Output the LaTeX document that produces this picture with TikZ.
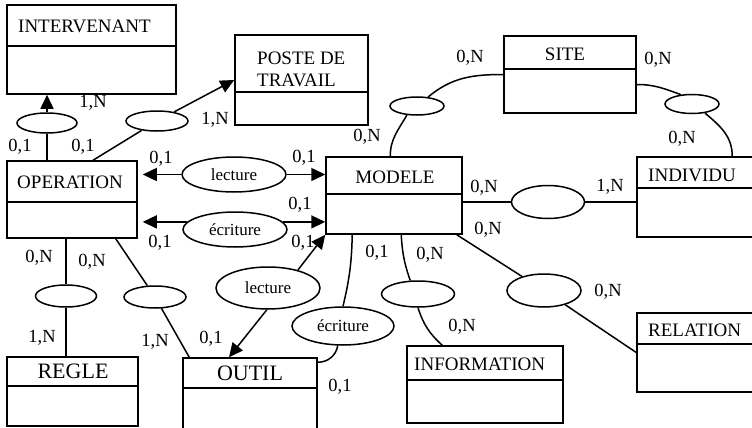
\documentclass[tikz,border=0pt]{standalone}
\usepackage{fontspec}
\setmainfont{Liberation Serif}
\usetikzlibrary{arrows.meta,shapes.geometric}
\tikzset{
  ent/.style={draw=black,line width=1.5pt,fill=white,inner sep=0pt},
  rel/.style={ellipse,draw=black,line width=1.5pt,fill=white,inner sep=0pt,font=\fontsize{17}{19}\selectfont},
  lnk/.style={draw=black,line width=1.5pt},
  arr/.style={lnk,-{Triangle[length=14pt,width=13pt]}},
  ttl/.style={inner sep=0pt,font=\fontsize{19}{22}\selectfont},
  ttlb/.style={ttl,font=\fontsize{22}{26}\selectfont},
  card/.style={inner sep=0pt,font=\fontsize{18.5}{20}\selectfont},
}
\begin{document}
\begin{tikzpicture}[x=1pt,y=-1pt]
  \useasboundingbox (0,0) rectangle (752,428);
  % entities
  \node[ent,minimum width=169pt,minimum height=89pt] (interv) at (91.5,49.5) {};
  \node[ent,minimum width=133pt,minimum height=90pt] (poste) at (301.5,80) {};
  \node[ent,minimum width=132pt,minimum height=77pt] (site) at (570,74.5) {};
  \node[ent,minimum width=133pt,minimum height=80pt] (indiv) at (703.5,197) {};
  \node[ent,minimum width=136pt,minimum height=77pt] (modele) at (394,195.5) {};
  \node[ent,minimum width=130pt,minimum height=77pt] (oper) at (72,199.5) {};
  \node[ent,minimum width=131pt,minimum height=69pt] (regle) at (72.5,391.5) {};
  \node[ent,minimum width=134pt,minimum height=72pt] (outil) at (250,394) {};
  \node[ent,minimum width=156pt,minimum height=77pt] (info) at (485,384.5) {};
  \node[ent,minimum width=133pt,minimum height=79pt] (relation) at (703.5,352.5) {};
  \foreach \e/\y in {interv/46,poste/92,site/69,indiv/188,modele/194,oper/202,regle/386,outil/388,info/380,relation/344}
    \draw[lnk] (\e.west |- 0,\y) -- (\e.east |- 0,\y);
  \node[ttl,anchor=base west] (interv-t) at (18,33) {INTERVENANT};
  \node[ttl,anchor=north west,align=left] (poste-t) at (257,52) {POSTE DE\\TRAVAIL};
  \node[ttl,anchor=base] (site-t) at (565,61) {SITE};
  \node[ttl,anchor=base west] (indiv-t) at (648,181) {INDIVIDU};
  \node[ttl,anchor=base] (modele-t) at (395,183) {MODELE};
  \node[ttl,anchor=base] (oper-t) at (70,188) {OPERATION};
  \node[ttlb,anchor=base] (regle-t) at (73,378) {REGLE};
  \node[ttlb,anchor=base] (outil-t) at (250,380) {OUTIL};
  \node[ttl,anchor=base west] (info-t) at (414,370) {INFORMATION};
  \node[ttl,anchor=base west] (rel-t) at (648,336) {RELATION};
  % associations
  \node[rel,minimum width=60pt,minimum height=20pt] (r1) at (47,123) {};
  \node[rel,minimum width=62pt,minimum height=20pt] (r2) at (157,121) {};
  \node[rel,minimum width=104pt,minimum height=35pt] (lect1) at (234,174.5) {lecture};
  \node[rel,minimum width=104pt,minimum height=35pt] (ecr1) at (235,229.5) {écriture};
  \node[rel,minimum width=61pt,minimum height=22pt] (r3) at (66,296) {};
  \node[rel,minimum width=62pt,minimum height=22pt] (r4) at (155,297) {};
  \node[rel,minimum width=104pt,minimum height=42pt] (lect2) at (268,288) {lecture};
  \node[rel,minimum width=102pt,minimum height=38pt] (ecr2) at (343,326) {écriture};
  \node[rel,minimum width=73pt,minimum height=26pt] (r5) at (418,294) {};
  \node[rel,minimum width=74pt,minimum height=33pt] (r6) at (544,290.5) {};
  \node[rel,minimum width=73pt,minimum height=33pt] (r7) at (548,202) {};
  \node[rel,minimum width=54pt,minimum height=18pt] (r8) at (417,106) {};
  \node[rel,minimum width=54pt,minimum height=19pt] (r9) at (692,104) {};
  % links
  \draw[lnk] (r1 |- oper.north) -- (r1);
  \draw[arr] (r1) -- (r1 |- interv.south);
  \draw[lnk] ([xshift=21pt]oper.north) -- (r2);
  \draw[arr] (r2) -- (poste.west);
  \draw[arr,shorten >=5pt] (lect1) -- (oper.east |- lect1);
  \draw[arr] (lect1) -- (modele.west |- lect1);
  \draw[arr,shorten >=5pt] (ecr1.171) -- (oper.east |- ecr1.171);
  \draw[arr] (ecr1.9) -- (modele.west |- ecr1.9);
  \draw[lnk] (r3 |- oper.south) -- (r3);
  \draw[lnk] (r3) -- (r3 |- regle.north);
  \draw[lnk] ([xshift=-22pt]oper.south east) -- (r4);
  \draw[lnk] (r4) -- ([xshift=7pt]outil.north west);
  \draw[arr] (lect2.-93) -- ([xshift=-21pt]outil.north);
  \draw[arr] (lect2.31) -- (modele.south west);
  \draw[lnk] ([xshift=27pt]modele.south west) to[bend left=6] (ecr2.north);
  \draw[lnk] (ecr2.-105) to[out=-100,in=0] ([yshift=-5pt]outil.north east);
  \draw[lnk] ([xshift=76pt]modele.south west) to[bend right=8] (r5.120);
  \draw[lnk] (r5.south) to[bend right=15] ([xshift=36pt]info.north west);
  \draw[lnk] ([xshift=-6pt]modele.south east) -- (r6);
  \draw[lnk] (r6) -- (relation.west);
  \draw[lnk] (modele.east |- r7) -- (r7);
  \draw[lnk] (r7) -- (indiv.west |- r7);
  \draw[lnk] ([xshift=65pt]modele.north west) to[out=90,in=-120] (r8.222);
  \draw[lnk] (r8.39) to[out=40,in=180] (site.west);
  \draw[lnk] ([yshift=-10pt]site.east) to[out=0,in=160] (r9.140);
  \draw[lnk] (r9.-35) to[out=-40,in=90] ([xshift=96pt]indiv.north west);
  % cardinalities
  \node[card] (c1) at (93,103) {1,N};
  \node[card] (c2) at (20,147) {0,1};
  \node[card] (c3) at (83,147) {0,1};
  \node[card] (c4) at (215,120) {1,N};
  \node[card] (c5) at (161,159) {0,1};
  \node[card] (c6) at (304,158) {0,1};
  \node[card] (c7) at (367,137) {0,N};
  \node[card] (c8) at (470,58) {0,N};
  \node[card] (c9) at (658,60) {0,N};
  \node[card] (c10) at (682,139) {0,N};
  \node[card] (c11) at (484,188) {0,N};
  \node[card] (c12) at (610,187) {1,N};
  \node[card] (c13) at (300,205) {0,1};
  \node[card] (c14) at (160,243) {0,1};
  \node[card] (c15) at (303,243) {0,1};
  \node[card] (c16) at (39,258) {0,N};
  \node[card] (c17) at (92,262) {0,N};
  \node[card] (c18) at (42,338) {1,N};
  \node[card] (c19) at (155,342) {1,N};
  \node[card] (c20) at (211,339) {0,1};
  \node[card] (c21) at (377,253) {0,1};
  \node[card] (c22) at (430,255) {0,N};
  \node[card] (c23) at (462,327) {0,N};
  \node[card] (c24) at (340,387) {0,1};
  \node[card] (c25) at (488,230) {0,N};
  \node[card] (c26) at (608,292) {0,N};
\end{tikzpicture}
\end{document}
